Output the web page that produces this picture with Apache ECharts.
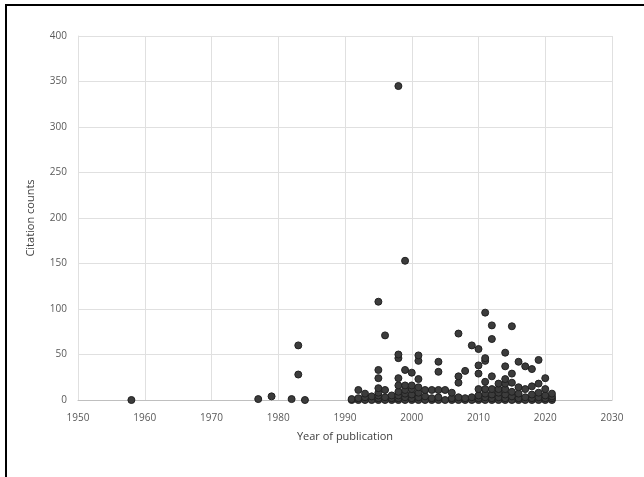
<!DOCTYPE html>
<html>
<head>
<meta charset="utf-8">
<script src="https://cdn.jsdelivr.net/npm/echarts@6/dist/echarts.min.js"></script>
<style>
	html, body { margin: 0; padding: 0; background: #fff; }
	#chart { position: absolute; left: 0; top: 0; width: 644px; height: 477px; }
	#frame {
		position: absolute; left: 5px; top: 4px; width: 650px; height: 490px;
		border-left: 2px solid #000; border-top: 2px solid #000; pointer-events: none;
	}
</style>
</head>
<body>
<div id="chart"></div>
<div id="frame"></div>
<script>
// one entry per publication: year and its citation count
const years = [
	1958, 1977, 1979, 1982, 1983, 1983, 1984,
	1991, 1991,
	1992, 1992, 1992,
	1993, 1993, 1993,
	1994, 1994,
	1995, 1995, 1995, 1995, 1995, 1995, 1995, 1995,
	1996, 1996, 1996, 1996,
	1997, 1997, 1997,
	1998, 1998, 1998, 1998, 1998, 1998, 1998, 1998, 1998,
	1999, 1999, 1999, 1999, 1999, 1999, 1999,
	2000, 2000, 2000, 2000, 2000, 2000,
	2001, 2001, 2001, 2001, 2001, 2001, 2001,
	2002, 2002, 2002,
	2003, 2003, 2003,
	2004, 2004, 2004, 2004, 2004,
	2005, 2005,
	2006, 2006, 2006,
	2007, 2007, 2007, 2007, 2007,
	2008, 2008, 2008,
	2009, 2009, 2009,
	2010, 2010, 2010, 2010, 2010, 2010, 2010,
	2011, 2011, 2011, 2011, 2011, 2011, 2011, 2011,
	2012, 2012, 2012, 2012, 2012, 2012, 2012,
	2013, 2013, 2013, 2013, 2013,
	2014, 2014, 2014, 2014, 2014, 2014, 2014, 2014,
	2015, 2015, 2015, 2015, 2015, 2015,
	2016, 2016, 2016, 2016, 2016,
	2017, 2017, 2017, 2017,
	2018, 2018, 2018, 2018, 2018,
	2019, 2019, 2019, 2019, 2019,
	2020, 2020, 2020, 2020, 2020,
	2021, 2021, 2021, 2021
];
const citations = [
	0, 1, 4, 1, 60, 28, 0,
	0, 1,
	0, 2, 11,
	0, 3, 7,
	0, 4,
	0, 2, 5, 8, 13, 24, 33, 108,
	0, 3, 11, 71,
	0, 2, 5,
	0, 2, 5, 9, 16, 24, 46, 50, 345,
	0, 3, 7, 11, 16, 33, 153,
	0, 2, 6, 12, 16, 30,
	0, 3, 8, 14, 23, 43, 49,
	0, 4, 11,
	0, 2, 11,
	0, 3, 11, 31, 42,
	0, 11,
	0, 2, 8,
	0, 3, 19, 26, 73,
	0, 2, 32,
	0, 3, 60,
	0, 2, 5, 12, 29, 38, 56,
	0, 3, 7, 12, 20, 43, 46, 96,
	0, 2, 6, 12, 26, 67, 82,
	0, 3, 8, 12, 18,
	0, 2, 6, 12, 18, 23, 37, 52,
	0, 4, 9, 19, 29, 81,
	0, 2, 7, 14, 42,
	0, 3, 12, 37,
	0, 2, 6, 15, 34,
	0, 3, 8, 18, 44,
	0, 2, 5, 12, 24,
	0, 2, 4, 7
];

const xTicks = { min: 1950, max: 2030, step: 10 };
const yTicks = { min: 0, max: 400, step: 50 };

const points = years.map((y, i) => [y, citations[i]]);

const chart = echarts.init(document.getElementById('chart'));
chart.setOption({
	animation: false,
	textStyle: { fontFamily: 'Open Sans' },
	grid: { left: 78, right: 32, top: 36, bottom: 77 },
	xAxis: {
		type: 'value',
		min: xTicks.min,
		max: xTicks.max,
		interval: xTicks.step,
		name: 'Year of publication',
		nameLocation: 'middle',
		nameGap: 31,
		nameTextStyle: { fontSize: 11, color: '#404040' },
		axisLine: { show: true, lineStyle: { color: '#bfbfbf' } },
		axisTick: { show: false },
		axisLabel: { margin: 13, fontSize: 10, color: '#595959', formatter: (v) => String(v) },
		splitLine: { show: true, lineStyle: { color: '#e0e0e0' } }
	},
	yAxis: {
		type: 'value',
		min: yTicks.min,
		max: yTicks.max,
		interval: yTicks.step,
		name: 'Citation counts',
		nameLocation: 'middle',
		nameGap: 42,
		nameTextStyle: { fontSize: 11, color: '#404040' },
		axisLine: { show: true, lineStyle: { color: '#e0e0e0' } },
		axisTick: { show: false },
		axisLabel: { margin: 11, fontSize: 10, color: '#595959' },
		splitLine: { show: true, lineStyle: { color: '#e0e0e0' } }
	},
	series: [{
		type: 'scatter',
		data: points,
		symbolSize: 7,
		clip: false,
		itemStyle: { color: '#3c3c3c', borderColor: '#202020', borderWidth: 1, opacity: 1 }
	}]
});
</script>
</body>
</html>
